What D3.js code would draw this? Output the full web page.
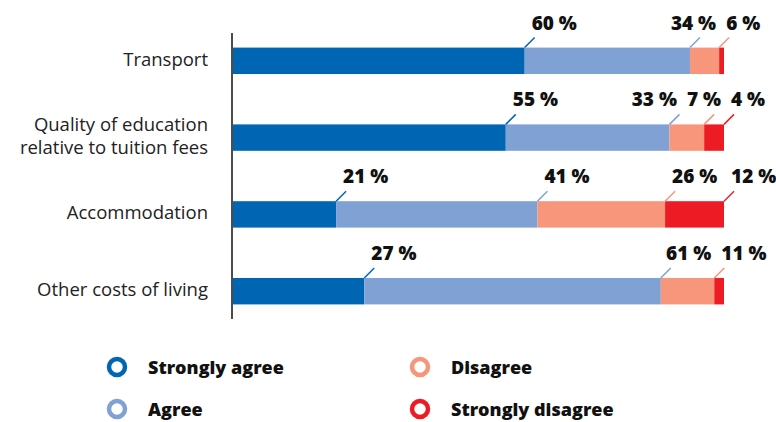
<!DOCTYPE html>
<html>
<head>
<meta charset="utf-8">
<script src="https://cdn.jsdelivr.net/npm/d3@7"></script>
<style>
  body { margin: 0; background: #fff; }
  svg { display: block; font-family: "Open Sans", Lato, sans-serif; }
</style>
</head>
<body>
<svg id="chart" width="776" height="422"></svg>
<script>
// values (percent)
const categories = ['Transport', 'Quality of education relative to tuition fees', 'Accommodation', 'Other costs of living'];
const catLines = [['Transport'], ['Quality of education', 'relative to tuition fees'], ['Accommodation'], ['Other costs of living']];
const seriesKeys = ['Strongly agree', 'Agree', 'Disagree', 'Strongly disagree'];
const stronglyAgree = [60, 55, 21, 27];
const agree = [34, 33, 41, 61];
const disagree = [6, 7, 26, 11];
const stronglyDisagree = [1, 4, 12, 2];
const colors = ['#0066b3', '#7fa1d4', '#f7967b', '#ed1c24'];
const minLabel = 3; // smaller segments get no label

const rows = categories.map((c, i) => ({
  cat: c,
  'Strongly agree': stronglyAgree[i],
  'Agree': agree[i],
  'Disagree': disagree[i],
  'Strongly disagree': stronglyDisagree[i]
}));

const svg = d3.select('#chart');
const x = d3.scaleLinear().domain([0, 1]).range([233, 724]);
const y = d3.scaleBand().domain(categories).range([33, 319]).paddingInner(0.656).paddingOuter(0.19);
const color = d3.scaleOrdinal().domain(seriesKeys).range(colors);

const stacked = d3.stack().keys(seriesKeys).offset(d3.stackOffsetExpand)(rows);

// bars
svg.append('g')
  .selectAll('g')
  .data(stacked)
  .join('g')
  .attr('fill', d => color(d.key))
  .selectAll('rect')
  .data(d => d)
  .join('rect')
  .attr('x', d => x(d[0]))
  .attr('y', d => y(d.data.cat))
  .attr('width', d => x(d[1]) - x(d[0]))
  .attr('height', y.bandwidth());

// axis line
svg.append('line')
  .attr('x1', 232).attr('x2', 232)
  .attr('y1', y.range()[0]).attr('y2', y.range()[1])
  .attr('stroke', '#111').attr('stroke-width', 1.5);

// category labels
const catG = svg.append('g');
categories.forEach((c, i) => {
  const lines = catLines[i];
  const cy = y(c) + y.bandwidth() / 2;
  const t = catG.append('text')
    .attr('x', 208)
    .attr('text-anchor', 'end')
    .attr('font-size', 18.5)
    .attr('font-weight', 400)
    .attr('fill', '#222');
  lines.forEach((l, j) => {
    t.append('tspan')
      .attr('x', 208)
      .attr('y', cy + 5 + (j - (lines.length - 1) / 2) * 23)
      .text(l);
  });
});

// value labels with leader lines
const labelG = svg.append('g');
categories.forEach((c, i) => {
  const top = y(c);
  const items = [];
  stacked.forEach(s => {
    const d = s[i];
    const v = d.data[s.key];
    if (v < minLabel) return;
    items.push({ key: s.key, v, xe: x(d[1]) });
  });
  // leaders
  items.forEach(it => {
    labelG.append('line')
      .attr('x1', it.xe).attr('y1', top)
      .attr('x2', it.xe + 10).attr('y2', top - 10)
      .attr('stroke', color(it.key)).attr('stroke-width', 1.5);
  });
  // texts: place right to left, shifting left to avoid overlap
  let limit = Infinity;
  for (let k = items.length - 1; k >= 0; k--) {
    const it = items[k];
    const t = labelG.append('text')
      .attr('y', top - 18)
      .attr('font-size', 19)
      .attr('font-weight', 800)
      .attr('fill', '#111')
      .text(it.v + ' %');
    const w = t.node().getComputedTextLength();
    let x0 = it.xe + 7;
    if (x0 + w > limit - 10) x0 = limit - 10 - w;
    t.attr('x', x0);
    limit = x0;
  }
});

// legend
const legend = [
  { key: 'Strongly agree', x: 117, y: 367 },
  { key: 'Agree', x: 117, y: 409 },
  { key: 'Disagree', x: 420, y: 367 },
  { key: 'Strongly disagree', x: 420, y: 409 }
];
const lg = svg.append('g')
  .selectAll('g')
  .data(legend)
  .join('g')
  .attr('transform', d => `translate(${d.x},${d.y})`);
lg.append('circle')
  .attr('r', 8)
  .attr('fill', 'none')
  .attr('stroke', d => color(d.key))
  .attr('stroke-width', 4.5);
lg.append('text')
  .attr('x', 31)
  .attr('y', 7)
  .attr('font-size', 18)
  .attr('font-weight', 800)
  .attr('fill', '#111')
  .text(d => d.key);
</script>
</body>
</html>
